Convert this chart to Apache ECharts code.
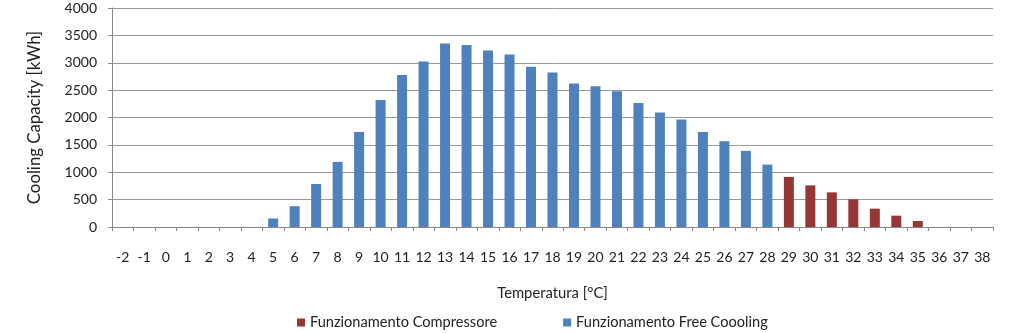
<!DOCTYPE html>
<html><head><meta charset="utf-8">
<script src="https://cdn.jsdelivr.net/npm/echarts@6/dist/echarts.min.js"></script>
<style>html,body{margin:0;padding:0;background:#fff}#c{width:1030px;height:333px}</style>
</head><body><div id="c"></div>
<script>
const categories = ['-2','-1','0','1','2','3','4','5','6','7','8','9','10','11','12','13','14','15','16','17','18','19','20','21','22','23','24','25','26','27','28','29','30','31','32','33','34','35','36','37','38'];
const freeCooling = [null,null,null,null,null,null,null,155,380,785,1190,1735,2320,2775,3025,3350,3325,3225,3150,2925,2820,2620,2570,2480,2265,2090,1965,1735,1565,1390,1140,null,null,null,null,null,null,null,null,null,null];
const compressore = [null,null,null,null,null,null,null,null,null,null,null,null,null,null,null,null,null,null,null,null,null,null,null,null,null,null,null,null,null,null,null,915,760,633,505,335,207,110,null,null,null];
const yTicks = [0,500,1000,1500,2000,2500,3000,3500,4000];

const font = 'Lato';
const fs = 14;
const chart = echarts.init(document.getElementById('c'));
chart.setOption({
  animation: false,
  textStyle: { fontFamily: font },
  grid: { left: 112, right: 37, top: 8, bottom: 106, containLabel: false },
  legend: {
    left: 292, top: 310, itemWidth: 8, itemHeight: 8, itemGap: 66,
    icon: 'rect',
    textStyle: { fontFamily: font, fontSize: 14.6, color: '#222' },
    data: ['Funzionamento Compressore', 'Funzionamento Free Coooling']
  },
  xAxis: {
    type: 'category', data: categories,
    name: 'Temperatura [°C]', nameLocation: 'middle', nameGap: 59,
    nameTextStyle: { fontFamily: font, fontSize: 14.8, color: '#222', verticalAlign: 'top' },
    axisLine: { lineStyle: { color: '#888', width: 1 } },
    axisTick: { show: true, length: 4, alignWithLabel: false, lineStyle: { color: '#888' } },
    axisLabel: { interval: 0, margin: 23, fontSize: fs, color: '#222', fontFamily: font }
  },
  yAxis: {
    type: 'value', min: yTicks[0], max: yTicks[yTicks.length - 1], interval: 500,
    name: 'Cooling Capacity [kWh]', nameLocation: 'middle', nameGap: 69,
    nameTextStyle: { fontFamily: font, fontSize: 16.8, color: '#222' },
    axisLine: { show: true, lineStyle: { color: '#888', width: 1 } },
    axisTick: { show: true, length: 4, lineStyle: { color: '#888' } },
    splitLine: { lineStyle: { color: '#999', width: 1 } },
    axisLabel: { margin: 15, fontSize: fs, color: '#222', fontFamily: font, formatter: v => String(v) }
  },
  series: [
    { name: 'Funzionamento Compressore', type: 'bar', data: compressore, barWidth: 10, barGap: '-100%',
      itemStyle: { color: '#953735' } },
    { name: 'Funzionamento Free Coooling', type: 'bar', data: freeCooling, barWidth: 10, barGap: '-100%',
      itemStyle: { color: '#4F81BD' } }
  ]
});
</script></body></html>
